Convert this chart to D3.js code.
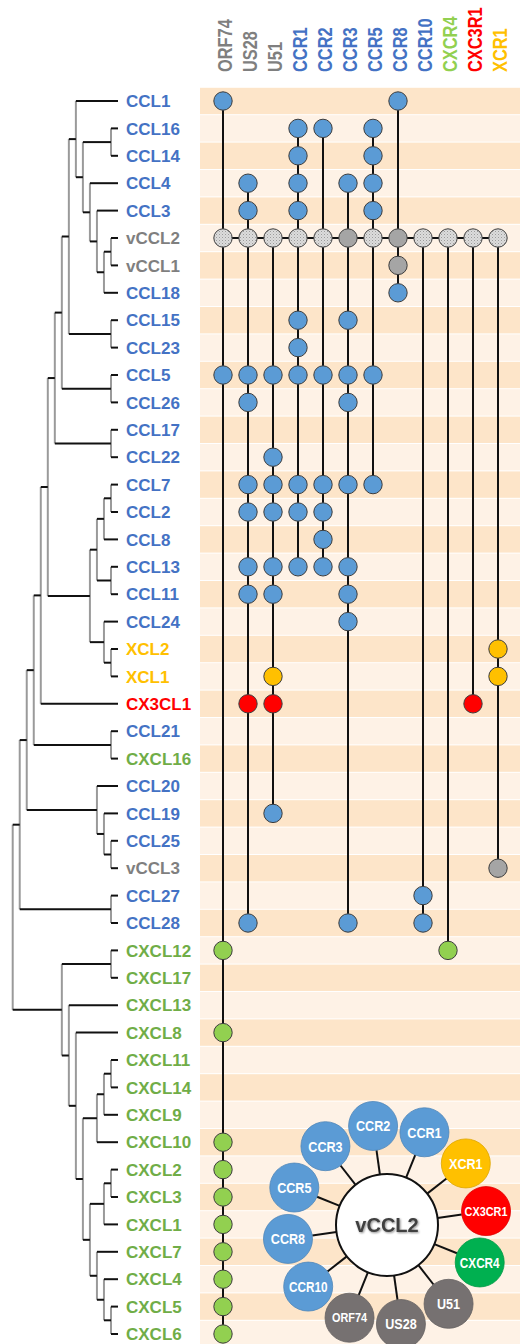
<!DOCTYPE html>
<html>
<head>
<meta charset="utf-8">
<script src="https://cdn.jsdelivr.net/npm/d3@7"></script>
<style>
  html, body { margin: 0; padding: 0; background: #fff; }
  svg { display: block; font-family: "Liberation Sans", Arial, sans-serif; }
</style>
</head>
<body>
<svg id="chart" width="520" height="1344"></svg>
<script>
// ---- data -------------------------------------------------------------
// Chemokine ligands, in tree (row) order
const ligands = ["CCL1","CCL16","CCL14","CCL4","CCL3","vCCL2","vCCL1","CCL18","CCL15","CCL23",
  "CCL5","CCL26","CCL17","CCL22","CCL7","CCL2","CCL8","CCL13","CCL11","CCL24","XCL2","XCL1",
  "CX3CL1","CCL21","CXCL16","CCL20","CCL19","CCL25","vCCL3","CCL27","CCL28","CXCL12","CXCL17",
  "CXCL13","CXCL8","CXCL11","CXCL14","CXCL9","CXCL10","CXCL2","CXCL3","CXCL1","CXCL7","CXCL4",
  "CXCL5","CXCL6"];

// Ligand phylogeny (Newick topology)
const phylogeny = "((((((((((CCL1,((CCL16,CCL14),(CCL4,(CCL3,((vCCL2,vCCL1),CCL18))))),(CCL15,CCL23)),(CCL5,CCL26)),(CCL17,CCL22)),((((CCL7,CCL2),CCL8),(CCL13,CCL11)),(CCL24,(XCL2,XCL1)))),CX3CL1),(CCL21,CXCL16)),(CCL20,(CCL19,(CCL25,vCCL3)))),(CCL27,CCL28)),((CXCL12,CXCL17),(CXCL13,(CXCL8,((((CXCL11,CXCL14),CXCL9),CXCL10),(((CXCL2,CXCL3),CXCL1),(CXCL7,(CXCL4,(CXCL5,CXCL6))))))))))";

// Receptors (columns)
const receptors = ["ORF74","US28","U51","CCR1","CCR2","CCR3","CCR5","CCR8","CCR10","CXCR4","CXC3R1","XCR1"];

// Ligands bound by each receptor
const bindings = {
  ORF74:  ["CCL1","vCCL2","CCL5","CXCL12","CXCL8","CXCL10","CXCL2","CXCL3","CXCL1","CXCL7","CXCL4","CXCL5","CXCL6"],
  US28:   ["CCL4","CCL3","vCCL2","CCL5","CCL26","CCL7","CCL2","CCL13","CCL11","CX3CL1","CCL28"],
  U51:    ["vCCL2","CCL5","CCL22","CCL7","CCL2","CCL13","CCL11","XCL1","CX3CL1","CCL19"],
  CCR1:   ["CCL16","CCL14","CCL4","CCL3","vCCL2","CCL15","CCL23","CCL5","CCL7","CCL2","CCL13"],
  CCR2:   ["CCL16","vCCL2","CCL5","CCL7","CCL2","CCL8","CCL13"],
  CCR3:   ["CCL4","vCCL2","CCL15","CCL5","CCL26","CCL7","CCL13","CCL11","CCL24","CCL28"],
  CCR5:   ["CCL16","CCL14","CCL4","CCL3","vCCL2","CCL5","CCL7"],
  CCR8:   ["CCL1","vCCL2","vCCL1","CCL18"],
  CCR10:  ["vCCL2","CCL27","CCL28"],
  CXCR4:  ["vCCL2","CXCL12"],
  CXC3R1: ["vCCL2","CX3CL1"],
  XCR1:   ["vCCL2","XCL2","XCL1","vCCL3"]
};

// Viral ligand / receptor pairs drawn solid grey (all other vCCL2 pairs are stippled)
const viralSolid = [["vCCL2","CCR3"],["vCCL2","CCR8"],["vCCL1","CCR8"],["vCCL3","XCR1"]];

// vCCL2 receptor network (clockwise from top)
const networkHub = "vCCL2";
const networkReceptors = ["CCR2","CCR1","XCR1","CX3CR1","CXCR4","U51","US28","ORF74","CCR10","CCR8","CCR5","CCR3"];

// ---- colours ------------------------------------------------------------
function ligandFamily(name) {
  if (name.startsWith("vCCL")) return "viral";
  if (name.startsWith("CX3CL")) return "cx3c";
  if (name.startsWith("CXCL")) return "cxc";
  if (name.startsWith("XCL")) return "xc";
  return "cc";
}
const labelColor = { cc: "#4472c4", viral: "#7f7f7f", xc: "#ffc000", cx3c: "#ff0000", cxc: "#70ad47" };
const dotColor   = { cc: "#5b9bd5", viral: "#a5a5a5", xc: "#ffc000", cx3c: "#ff0000", cxc: "#92d050" };
function receptorColor(r) {
  if (["ORF74","US28","U51"].includes(r)) return "#7f7f7f";
  if (r === "CXCR4") return "#92d050";
  if (r === "CXC3R1" || r === "CX3CR1") return "#ff0000";
  if (r === "XCR1") return "#ffc000";
  return "#4472c4";
}
function networkColor(r) {
  if (["ORF74","US28","U51"].includes(r)) return "#767171";
  if (r === "CXCR4") return "#00b050";
  if (r === "CX3CR1") return "#ff0000";
  if (r === "XCR1") return "#ffc000";
  return "#5b9bd5";
}

// ---- helpers ------------------------------------------------------------
function parseNewick(s) {
  let i = 0;
  function node() {
    if (s[i] === "(") {
      i++;
      const children = [node()];
      while (s[i] === ",") { i++; children.push(node()); }
      i++; // ')'
      return { children };
    }
    let name = "";
    while (i < s.length && !"(),".includes(s[i])) name += s[i++];
    return { name };
  }
  return node();
}

// ---- layout ------------------------------------------------------------
const svg = d3.select("#chart");
const W = 520, H = 1344;

const rowY = d3.scalePoint().domain(ligands).range([101, 1334]);
const step = rowY.step();
const colX = d3.scalePoint().domain(receptors).range([223, 498]);

const root = d3.hierarchy(parseNewick(phylogeny));
const depthX = d3.scaleLinear().domain([0, root.height]).range([118, 12.7]);

root.eachAfter(n => {
  if (n.children) {
    n.y = (n.children[0].y + n.children[n.children.length - 1].y) / 2;
  } else {
    n.y = rowY(n.data.name);
  }
  n.x = depthX(n.height);
});

// defs: stippled fill and soft text shadow
const defs = svg.append("defs");
const pat = defs.append("pattern").attr("id", "stipple")
  .attr("width", 3).attr("height", 3).attr("patternUnits", "userSpaceOnUse");
pat.append("rect").attr("width", 3).attr("height", 3).attr("fill", "#dcdcdc");
pat.append("rect").attr("width", 1).attr("height", 1).attr("fill", "#9c9c9c");
pat.append("rect").attr("x", 1.5).attr("y", 1.5).attr("width", 1).attr("height", 1).attr("fill", "#b8b8b8");

const shadow = defs.append("filter").attr("id", "soft").attr("x", "-20%").attr("y", "-40%")
  .attr("width", "140%").attr("height", "180%");
shadow.append("feGaussianBlur").attr("in", "SourceAlpha").attr("stdDeviation", 1.2).attr("result", "b");
shadow.append("feOffset").attr("in", "b").attr("dx", 0.6).attr("dy", 0.8).attr("result", "o");
shadow.append("feComponentTransfer").attr("in", "o").attr("result", "s")
  .append("feFuncA").attr("type", "linear").attr("slope", 0.45);
const fm = shadow.append("feMerge");
fm.append("feMergeNode").attr("in", "s");
fm.append("feMergeNode").attr("in", "SourceGraphic");

// ---- background stripes ------------------------------------------------
svg.append("g").selectAll("rect").data(ligands).join("rect")
  .attr("x", 200).attr("width", W - 200)
  .attr("y", d => rowY(d) - step / 2 + 0.5)
  .attr("height", step - 1)
  .attr("fill", (d, i) => i % 2 === 0 ? "#fde5c9" : "#fef2e6");

// ---- dendrogram ---------------------------------------------------------
const tg = svg.append("g");
const internal = root.descendants().filter(n => n.children);
tg.selectAll("line.v").data(internal).join("line")
  .attr("class", "v")
  .attr("x1", d => d.x).attr("x2", d => d.x)
  .attr("y1", d => d.children[0].y).attr("y2", d => d.children[d.children.length - 1].y)
  .attr("stroke", "#9a9a9a").attr("stroke-width", 2);
tg.selectAll("line.h").data(root.descendants().filter(n => n.parent)).join("line")
  .attr("class", "h")
  .attr("x1", d => d.parent.x).attr("x2", d => d.x)
  .attr("y1", d => d.y).attr("y2", d => d.y)
  .attr("stroke", "#111").attr("stroke-width", 2);

// ---- ligand labels ------------------------------------------------------
svg.append("g").selectAll("text").data(ligands).join("text")
  .attr("x", 126).attr("y", d => rowY(d)).attr("dy", "0.36em")
  .attr("font-size", 17).attr("font-weight", "bold")
  .attr("fill", d => labelColor[ligandFamily(d)])
  .text(d => d);

// ---- receptor headers ---------------------------------------------------
svg.append("g").selectAll("g").data(receptors).join("g")
  .attr("transform", d => `translate(${colX(d) + 8.5},72) rotate(-90)`)
  .append("text")
  .attr("transform", "scale(0.82,1)")
  .attr("font-size", 20).attr("font-weight", "bold")
  .attr("fill", d => receptorColor(d))
  .text(d => d);

// ---- binding matrix -----------------------------------------------------
const pairs = receptors.flatMap(r => bindings[r].map(l => ({ r, l })));
const mg = svg.append("g");

// column stems
mg.selectAll("line.stem").data(receptors).join("line")
  .attr("class", "stem")
  .attr("x1", d => colX(d)).attr("x2", d => colX(d))
  .attr("y1", d => d3.min(bindings[d], l => rowY(l)))
  .attr("y2", d => d3.max(bindings[d], l => rowY(l)))
  .attr("stroke", "#111").attr("stroke-width", 2);

// vCCL2 row linking every receptor
const hubRow = receptors.filter(r => bindings[r].includes(networkHub));
mg.append("line")
  .attr("x1", colX(hubRow[0])).attr("x2", colX(hubRow[hubRow.length - 1]))
  .attr("y1", rowY(networkHub)).attr("y2", rowY(networkHub))
  .attr("stroke", "#111").attr("stroke-width", 2);

const isSolid = p => viralSolid.some(([l, r]) => l === p.l && r === p.r);
mg.selectAll("circle").data(pairs).join("circle")
  .attr("cx", d => colX(d.r)).attr("cy", d => rowY(d.l)).attr("r", 9.2)
  .attr("fill", d => {
    const f = ligandFamily(d.l);
    if (f === "viral" && !isSolid(d)) return "url(#stipple)";
    return dotColor[f];
  })
  .attr("stroke", "#3d3d3d").attr("stroke-width", 1);

// ---- vCCL2 receptor network ---------------------------------------------
const hub = { x: 387, y: 1225, r: 51 };
const spokeLen = 100, satR = 24.5;
const angle = d3.scaleLinear().domain([0, networkReceptors.length]).range([-98, 262]);
const sats = networkReceptors.map((name, i) => {
  const a = angle(i) * Math.PI / 180;
  return { name, a, x: hub.x + spokeLen * Math.cos(a), y: hub.y + spokeLen * Math.sin(a) };
});
const ng = svg.append("g");
ng.selectAll("line").data(sats).join("line")
  .attr("x1", d => hub.x + hub.r * Math.cos(d.a)).attr("y1", d => hub.y + hub.r * Math.sin(d.a))
  .attr("x2", d => hub.x + (spokeLen - satR) * Math.cos(d.a)).attr("y2", d => hub.y + (spokeLen - satR) * Math.sin(d.a))
  .attr("stroke", "#111").attr("stroke-width", 2);
ng.append("circle").attr("cx", hub.x).attr("cy", hub.y).attr("r", hub.r)
  .attr("fill", "#fff").attr("stroke", "#111").attr("stroke-width", 2);
ng.append("text").attr("x", hub.x).attr("y", hub.y).attr("dy", "0.36em")
  .attr("text-anchor", "middle").attr("font-size", 20).attr("font-weight", "bold")
  .attr("fill", "#404040").attr("filter", "url(#soft)")
  .text(networkHub);
const sg = ng.selectAll("g.sat").data(sats).join("g").attr("class", "sat")
  .attr("transform", d => `translate(${d.x},${d.y})`);
sg.append("circle").attr("r", satR)
  .attr("fill", d => networkColor(d.name))
  .attr("stroke", d => d3.color(networkColor(d.name)).darker(0.4)).attr("stroke-width", 0.8);
sg.append("text")
  .attr("text-anchor", "middle").attr("dy", "0.36em")
  .attr("transform", "scale(0.84,1)")
  .attr("font-size", d => d.name.length >= 6 ? 13 : (d.name.startsWith("O") ? 13 : (d.name.length === 5 ? 14 : 15)))
  .attr("font-weight", "bold").attr("fill", "#fff")
  .text(d => d.name);
</script>
</body>
</html>
